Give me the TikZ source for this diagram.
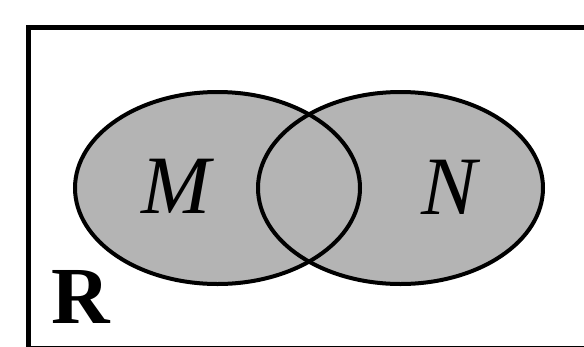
\documentclass[tikz,border=0pt]{standalone}
\usepackage{fontspec}
\setmainfont{Liberation Serif}
\definecolor{setgray}{RGB}{180,180,180}
\begin{document}
\begin{tikzpicture}[x=1pt,y=-1pt,
  setfill/.style={fill=setgray},
  setline/.style={draw=black,line width=4pt},
  lbl/.style={font=\fontsize{83}{83}\selectfont\itshape,anchor=base,inner sep=0pt}]
\useasboundingbox (0,0) rectangle (584,346);
\begin{scope}
\clip (0,0) rectangle (584,346);
\draw[line width=5pt] (28.5,27.5) rectangle (620,348.5);
\end{scope}
\fill[setfill] (217.5,188) ellipse [x radius=142.5, y radius=96];
\fill[setfill] (400.5,188) ellipse [x radius=142.5, y radius=96];
\draw[setline] (217.5,188) ellipse [x radius=142.5, y radius=96];
\draw[setline] (400.5,188) ellipse [x radius=142.5, y radius=96];
\node[lbl] (M) at (176,213) {M};
\node[lbl] (N) at (449,214) {N};
\node[font=\fontsize{81}{81}\selectfont\bfseries,anchor=base west,inner sep=0pt] (R) at (51,323) {R};
\end{tikzpicture}
\end{document}
